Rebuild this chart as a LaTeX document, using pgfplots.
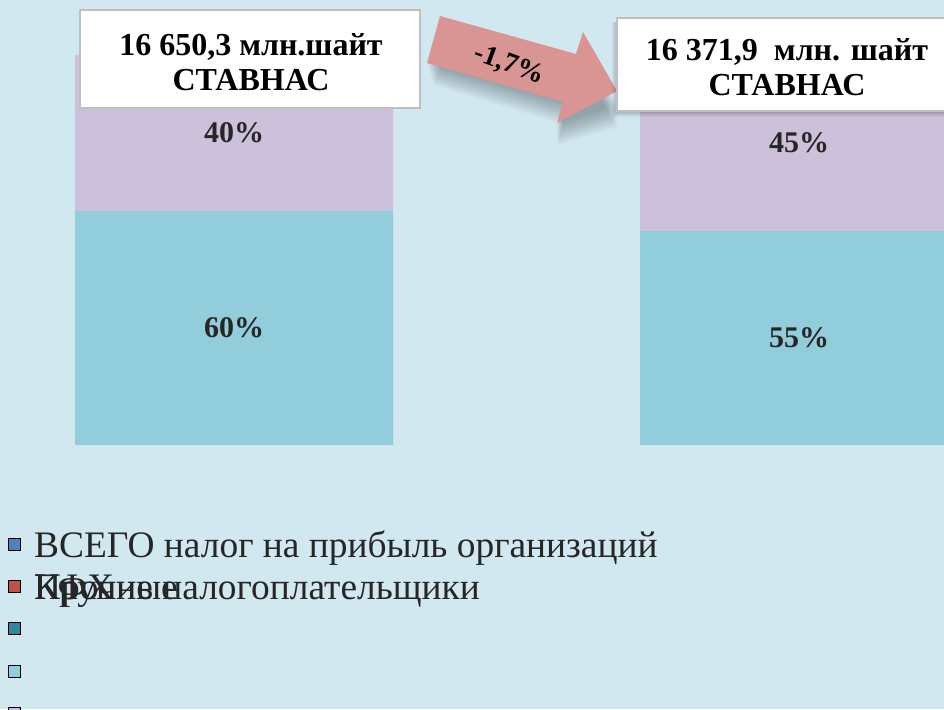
\documentclass[border=0pt]{standalone}
\usepackage{fontspec}
\setmainfont{Liberation Serif}
\usepackage{pgfplots}
\pgfplotsset{compat=1.18}

\definecolor{bg}{HTML}{D2E8F1}
\definecolor{lowbar}{HTML}{92CDDC}
\definecolor{upbar}{HTML}{CCC0DA}
\definecolor{arrowc}{HTML}{D99594}
\definecolor{boxline}{HTML}{BFBFBF}
\definecolor{lg1}{HTML}{4F81BD}
\definecolor{lg2}{HTML}{C0504D}
\definecolor{lg3}{HTML}{31859C}
\definecolor{lg4}{HTML}{93CDDD}
\definecolor{lg5}{HTML}{D8B4D6}

\begin{document}
\begin{tikzpicture}
% background, in pixel units of the reference (1px = 0.5pt)
\begin{scope}[yshift=354.5pt, x=0.5pt, y=-0.5pt]
  \fill[bg] (0,0) rectangle (944,709);
\end{scope}

\begin{axis}[
    at={(0pt,132pt)}, anchor=south west,
    scale only axis,
    width=472pt, height=195pt,
    hide axis,
    xmin=-0.4142, xmax=1.2566,
    ymin=0, ymax=100,
    ybar stacked,
    bar width=159pt,
    visualization depends on=rawy \as \rawy,
    nodes near coords={\pgfmathprintnumber[assume math mode=true]{\rawy}\%},
    every node near coord/.append style={
        font=\fontsize{15}{18}\selectfont\bfseries, text=black!85,
        anchor=center},
    legend style={
        at={(4pt,-41pt)}, anchor=north west,
        draw=none, fill=none,
        font=\fontsize{18.7}{20.5}\selectfont, text=black!85,
        row sep=4.3pt, column sep=6pt, inner sep=0pt,
        nodes={inner sep=0.5pt},
        legend cell align=left},
    legend image code/.code={
        \fill[#1] (0pt,-3pt) rectangle (6pt,3pt);},
]
% share of tax payers, %
\addplot[fill=lowbar, draw=none, forget plot] coordinates {(0,60) (1,55)};
\addplot[fill=upbar, draw=none, forget plot] coordinates {(0,40) (1,45)};

\addlegendimage{fill=lg1}
\addlegendentry{\strut ВСЕГО налог на прибыль организаций}
\addlegendimage{fill=lg2}
\addlegendentry{\strut\rlap{КФХ}\rlap{Крупные}Прочие налогоплательщики}
\addlegendimage{fill=lg3}
\addlegendentry{\strut}
\addlegendimage{fill=lg4}
\addlegendentry{\strut}
\addlegendimage{fill=lg5}
\addlegendentry{\strut}
\end{axis}

\begin{scope}[yshift=354.5pt, x=0.5pt, y=-0.5pt]
  % soft shadow under the arrow
  \foreach \d in {0,1.5,...,22.5} {
    \fill[black, opacity=0.02]
      (440+\d*0.3,16+14+\d) -- (576,54+14+\d) -- (583,32+14+\d) -- (617,91+14+\d)
      -- (557,123+\d) -- (563,102+\d) -- (427+\d*0.3,63+\d) -- cycle;
  }
  % arrow
  \fill[arrowc]
    (440,16) -- (576,54) -- (583,32) -- (617,91) -- (557,123)
    -- (563,102) -- (427,63) -- cycle;
  \node[rotate=-20, font=\fontsize{14}{15}\selectfont\bfseries]
    at (509,65) {-1,7\%};
  % boxes
  \node[draw=boxline, line width=1pt, fill=white, minimum width=170pt,
        minimum height=49pt, inner sep=0pt] at (250,59) {};
  \node[align=center, font=\fontsize{16}{17.5}\selectfont\bfseries]
    at (251,62) {16 650,3 млн.шайт\\СТАВНАС};
  \foreach \d in {1,2,3,4,5} {
    \fill[black, opacity=0.04] (617-\d,22) rectangle (950,112+\d);
  }
  \node[draw=boxline, line width=1pt, fill=white, minimum width=170pt,
        minimum height=46.5pt, inner sep=0pt] at (787,64.5) {};
  \node[align=center, font=\fontsize{16}{17.5}\selectfont\bfseries]
    at (787,67) {16 371,9~~млн. шайт\\СТАВНАС};
\end{scope}

\pgfresetboundingbox
\path[use as bounding box] (0pt,0pt) rectangle (472pt,354.5pt);
\end{tikzpicture}
\end{document}
